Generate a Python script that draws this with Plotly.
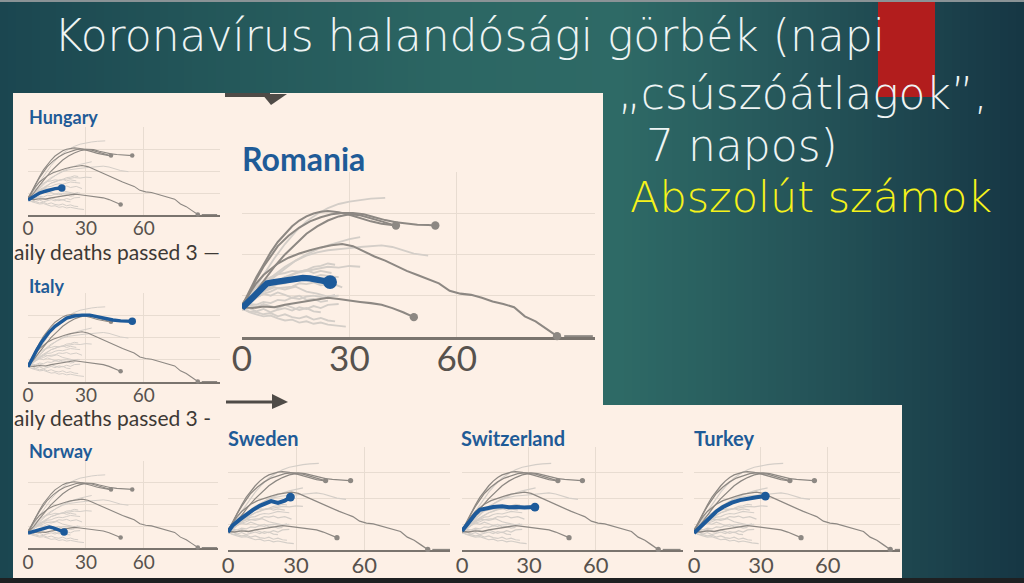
import plotly.graph_objects as go

# ---------------- data (days since 3 daily deaths, relative log-level units) ----------------
tick_vals = [0, 30, 60]
tick_text = ["0", "30", "60"]

# dark grey reference curves
china_x = [0, 2, 4, 6, 8, 10, 13, 16, 19, 22, 25, 28, 31, 34, 37, 40, 43, 46, 49, 52, 55, 58, 61, 64, 67, 70, 73, 76, 79, 82, 85, 88]
china_y = [0.78, 1.05, 1.3, 1.5, 1.65, 1.78, 1.92, 2.02, 2.1, 2.17, 2.22, 2.25, 2.2, 2.08, 1.95, 1.85, 1.72, 1.6, 1.5, 1.4, 1.3, 1.12, 1.05, 1.02, 0.95, 0.86, 0.8, 0.72, 0.5, 0.38, 0.2, 0.02]
china_tail_x = [90, 98]
china_tail_y = [0.02, 0.02]
italy_ref_x = [0, 2, 4, 6, 8, 10, 13, 16, 19, 22, 25, 28, 31, 34, 37, 40, 43, 46, 49, 52, 54]
italy_ref_y = [0.68, 1.05, 1.4, 1.7, 1.95, 2.2, 2.45, 2.65, 2.8, 2.9, 2.97, 3.0, 3.0, 2.97, 2.9, 2.83, 2.78, 2.75, 2.72, 2.71, 2.7]
spain_x = [0, 2, 4, 6, 8, 10, 12, 14, 16, 18, 20, 22, 24, 27, 30, 33, 36, 39, 42, 43]
spain_y = [0.75, 1.1, 1.45, 1.75, 2.05, 2.3, 2.5, 2.68, 2.82, 2.92, 2.99, 3.03, 3.05, 3.02, 2.96, 2.88, 2.8, 2.74, 2.7, 2.7]
uk_x = [0, 3, 6, 9, 12, 15, 18, 21, 24, 27, 30, 33, 36, 39, 42]
uk_y = [0.72, 1.0, 1.35, 1.7, 2.0, 2.25, 2.5, 2.68, 2.82, 2.92, 2.97, 2.95, 2.88, 2.8, 2.72]
low_x = [0, 3, 6, 9, 12, 15, 18, 21, 24, 27, 30, 33, 36, 39, 42, 45, 48]
low_y = [0.72, 0.7, 0.74, 0.72, 0.78, 0.82, 0.86, 0.9, 0.95, 0.92, 0.88, 0.85, 0.82, 0.78, 0.7, 0.6, 0.48]
end_dots_x = [43, 54, 48, 88]
end_dots_y = [2.7, 2.7, 0.48, 0.02]

# light grey reference curves
us_x = [0, 3, 6, 9, 12, 15, 18, 21, 24, 27, 30, 33, 36, 40]
us_y = [0.8, 1.1, 1.5, 1.9, 2.25, 2.55, 2.8, 2.98, 3.12, 3.22, 3.28, 3.32, 3.35, 3.37]
france_x = [0, 3, 6, 9, 12, 15, 18, 21, 24, 27, 30, 33, 36, 39, 42, 45, 48, 52]
france_y = [0.75, 1.0, 1.25, 1.5, 1.7, 1.85, 1.97, 2.05, 2.1, 2.12, 2.15, 2.18, 2.2, 2.22, 2.18, 2.1, 2.02, 1.97]
lg2_x = [0, 3, 6, 9, 12, 15, 18, 21, 24, 27, 30, 33]
lg2_y = [0.7, 0.95, 1.2, 1.45, 1.65, 1.85, 2.0, 2.12, 2.22, 2.3, 2.37, 2.42]
c1_x = [0, 2, 4, 6, 8, 10, 12, 14, 16, 18, 20, 22, 24, 26]
c1_y = [0.7, 0.85, 1.0, 1.15, 1.25, 1.35, 1.45, 1.5, 1.58, 1.62, 1.7, 1.72, 1.78, 1.75]
c2_x = [0, 2, 4, 6, 8, 10, 12, 14, 16, 18, 20, 22, 24, 27]
c2_y = [0.75, 0.9, 1.05, 1.12, 1.2, 1.28, 1.3, 1.38, 1.42, 1.4, 1.45, 1.5, 1.48, 1.45]
c3_x = [0, 2, 4, 6, 8, 10, 12, 14, 16, 18, 20, 22, 25, 28]
c3_y = [0.7, 0.8, 0.95, 1.05, 1.1, 1.18, 1.2, 1.22, 1.3, 1.28, 1.32, 1.25, 1.3, 1.2]
c4_x = [0, 2, 4, 6, 8, 10, 12, 14, 16, 18, 20, 22, 24, 26]
c4_y = [0.68, 0.62, 0.6, 0.55, 0.58, 0.5, 0.55, 0.48, 0.45, 0.5, 0.42, 0.46, 0.4, 0.38]
c5_x = [0, 2, 4, 6, 8, 10, 12, 14, 16, 18, 20, 23, 26]
c5_y = [0.72, 0.8, 0.78, 0.85, 0.82, 0.9, 0.88, 0.95, 0.92, 0.98, 1.0, 0.95, 1.02]
c6_x = [0, 2, 4, 6, 8, 10, 12, 14, 16, 18, 20, 22, 24, 27]
c6_y = [0.65, 0.7, 0.62, 0.68, 0.6, 0.66, 0.7, 0.64, 0.72, 0.68, 0.75, 0.7, 0.78, 0.8]
c7_x = [0, 3, 6, 9, 12, 15, 18, 21, 24, 27]
c7_y = [0.75, 0.95, 1.1, 1.2, 1.15, 1.22, 1.1, 1.05, 0.98, 1.0]
c8_x = [0, 2, 4, 6, 8, 10, 12, 14, 16, 18, 20, 22, 24, 26, 29]
c8_y = [0.7, 0.6, 0.55, 0.5, 0.52, 0.45, 0.4, 0.42, 0.35, 0.38, 0.32, 0.35, 0.3, 0.28, 0.25]
c9_x = [0, 2, 4, 6, 8, 10, 12, 14, 16, 18, 20, 22, 25]
c9_y = [0.8, 1.0, 1.2, 1.35, 1.45, 1.52, 1.55, 1.6, 1.58, 1.62, 1.55, 1.6, 1.55]
c10_x = [0, 3, 6, 9, 12, 15, 18, 21, 24, 27, 30, 33]
c10_y = [0.72, 0.9, 1.1, 1.3, 1.45, 1.55, 1.6, 1.65, 1.7, 1.68, 1.72, 1.7]
c11_x = [0, 2, 4, 6, 8, 10, 12, 14, 16, 18, 20, 22]
c11_y = [0.7, 0.78, 0.72, 0.8, 0.75, 0.7, 0.78, 0.72, 0.65, 0.7, 0.62, 0.6]
c12_x = [0, 2, 4, 6, 8, 10, 12, 14, 16, 18, 20, 22, 24]
c12_y = [0.72, 0.88, 0.95, 1.05, 1.0, 1.08, 1.02, 0.95, 1.0, 0.9, 0.92, 0.85, 0.88]

# highlighted countries
hungary_x = [0, 3, 6, 9, 11, 14, 17.5]
hungary_y = [0.68, 0.85, 1.0, 1.08, 1.14, 1.2, 1.23]
italy_x = [0, 2, 4.5, 7, 9, 11, 14, 17, 20, 24, 28, 32, 36, 40, 44, 48, 51, 54]
italy_y = [0.68, 1.05, 1.43, 1.78, 2.02, 2.24, 2.5, 2.7, 2.87, 2.96, 3.0, 3.0, 2.92, 2.84, 2.78, 2.74, 2.72, 2.72]
norway_x = [0, 2, 4, 6, 8, 10, 11, 13, 15, 17, 18.7]
norway_y = [0.69, 0.74, 0.78, 0.83, 0.88, 0.92, 0.97, 0.93, 0.87, 0.82, 0.74]
romania_x = [0, 1.5, 3, 5, 7, 9, 11, 13, 15, 17, 19, 21, 23, 24.6]
romania_y = [0.7, 0.82, 0.97, 1.15, 1.3, 1.33, 1.36, 1.38, 1.4, 1.43, 1.42, 1.38, 1.35, 1.33]
sweden_x = [0, 2, 5, 8, 11, 14, 17, 19, 22, 25, 27.5]
sweden_y = [0.7, 0.95, 1.17, 1.38, 1.56, 1.72, 1.84, 1.9, 1.83, 1.92, 2.06]
switzerland_x = [0, 2, 3.7, 6, 8, 11, 14, 18, 21, 24.6, 28, 32.7]
switzerland_y = [0.74, 0.95, 1.17, 1.4, 1.56, 1.63, 1.67, 1.7, 1.66, 1.67, 1.65, 1.67]
turkey_x = [0, 3, 5, 7, 10, 13, 17, 20.6, 24, 28, 32]
turkey_y = [0.66, 0.92, 1.1, 1.28, 1.5, 1.67, 1.84, 1.94, 2.0, 2.05, 2.1]

title_lines = ["Koronavírus halandósági görbék (napi", "„csúszóátlagok”,", "7 napos)"]
subtitle = "Abszolút számok"
axis_caption = "aily deaths passed 3 —"
axis_caption2 = "aily deaths passed 3 -"

# ---------------- layout helpers ----------------
W, H = 1024, 583
CREAM = "#fdf0e6"
GRID = "#e8dcd1"
LIGHT = "#d4cec8"
DARK = "#8d8883"
BLUE = "#1d5a9a"
TBLUE = "#1f5b97"
AXIS = "#7a746e"
TICK = "#57524d"


def px(x):
    return x / W


def py(y):
    return 1 - y / H


light_curves = [(us_x, us_y), (france_x, france_y), (lg2_x, lg2_y), (c1_x, c1_y), (c2_x, c2_y),
                (c3_x, c3_y), (c4_x, c4_y), (c5_x, c5_y), (c6_x, c6_y), (c7_x, c7_y), (c8_x, c8_y),
                (c9_x, c9_y), (c10_x, c10_y), (c11_x, c11_y), (c12_x, c12_y)]
dark_curves = [(china_x, china_y), (china_tail_x, china_tail_y), (italy_ref_x, italy_ref_y),
               (spain_x, spain_y), (uk_x, uk_y), (low_x, low_y)]

# name, blue x, blue y, px of day0, px of right end, px per day, baseline px, px per unit,
# scale factor, title pos, tick label standoff
panels = [
    ("Hungary", hungary_x, hungary_y, 28, 220, 1.93, 215, 22.0, 1.0, (27, 117), -5),
    ("Italy", italy_x, italy_y, 28, 220, 1.93, 382, 22.3, 1.0, (27, 286), -5),
    ("Norway", norway_x, norway_y, 28, 218, 1.93, 548, 21.7, 1.0, (27, 451), -4),
    ("Romania", romania_x, romania_y, 242, 595, 3.58, 337, 41.3, 1.85, (240, 158), -11),
    ("Sweden", sweden_x, sweden_y, 228, 450, 2.27, 550, 25.7, 1.17, (226, 438), -5),
    ("Switzerland", switzerland_x, switzerland_y, 462, 683, 2.23, 550, 25.7, 1.17, (459, 438), -5),
    ("Turkey", turkey_x, turkey_y, 694, 900, 2.23, 550, 25.7, 1.17, (692, 438), -5),
]

fig = go.Figure()
shapes = []
annotations = []

# gradient background (vertical stripes)
stops = [(0, (27, 70, 80)), (200, (35, 86, 89)), (450, (44, 102, 99)), (620, (46, 106, 102)),
         (800, (37, 85, 89)), (1024, (22, 54, 68))]


def grad(x):
    for (xa, ca), (xb, cb) in zip(stops[:-1], stops[1:]):
        if xa <= x <= xb:
            t = (x - xa) / (xb - xa)
            return "rgb(%d,%d,%d)" % tuple(round(a + (b - a) * t) for a, b in zip(ca, cb))
    return "rgb(22,54,68)"


step = 8
for i in range(0, W, step):
    shapes.append(dict(type="rect", xref="paper", yref="paper", x0=px(i), x1=px(i + step + 1),
                       y0=0, y1=1, fillcolor=grad(i + step / 2), line=dict(width=0), layer="below"))

# red block top right
shapes.append(dict(type="rect", xref="paper", yref="paper", x0=px(878), x1=px(935), y0=py(97), y1=py(0),
                   fillcolor="#b21d1d", line=dict(width=0), layer="below"))
# top / bottom strips
shapes.append(dict(type="rect", xref="paper", yref="paper", x0=0, x1=1, y0=py(2), y1=1,
                   fillcolor="#8a9396", line=dict(width=0), layer="below"))

# cream panels
for (l, t, r, b) in [(13, 93, 225, 578), (225, 93, 603, 405), (225, 405, 902, 578)]:
    shapes.append(dict(type="rect", xref="paper", yref="paper", x0=px(l), x1=px(r), y0=py(b), y1=py(t),
                       fillcolor=CREAM, line=dict(width=0), layer="below"))
shapes.append(dict(type="rect", xref="paper", yref="paper", x0=0, x1=1, y0=0, y1=py(578),
                   fillcolor="#1e2022", line=dict(width=0), layer="below"))

# arrows (FT graphic fragments)
shapes.append(dict(type="rect", xref="paper", yref="paper", x0=px(225), x1=px(270), y0=py(97), y1=py(93),
                   fillcolor="#4f4b47", line=dict(width=0), layer="above"))
shapes.append(dict(type="path", xref="paper", yref="paper",
                   path="M %f %f L %f %f L %f %f Z" % (px(262), py(94), px(287), py(94), px(271), py(105)),
                   fillcolor="#4f4b47", line=dict(width=0), layer="above"))
shapes.append(dict(type="rect", xref="paper", yref="paper", x0=px(226), x1=px(276), y0=py(403.5), y1=py(400.5),
                   fillcolor="#4f4b47", line=dict(width=0), layer="above"))
shapes.append(dict(type="path", xref="paper", yref="paper",
                   path="M %f %f L %f %f L %f %f Z" % (px(272), py(394), px(288), py(402), px(272), py(409)),
                   fillcolor="#4f4b47", line=dict(width=0), layer="above"))

for k, (name, bx, by, x0p, x1p, ppd, basep, ppu, sc, tpos, stand) in enumerate(panels):
    n = k + 1
    xa = "x" if n == 1 else "x%d" % n
    ya = "y" if n == 1 else "y%d" % n
    xr = (x1p - x0p) / ppd
    top = basep - 4.0 * ppu
    lw_l = 1.0 * sc
    lw_d = 1.1 * sc
    lw_b = 3.4 * sc
    ds = 4.5 * sc
    bs = 7.5 * sc
    for cx, cy in light_curves:
        fig.add_trace(go.Scatter(x=cx, y=cy, mode="lines", line=dict(color=LIGHT, width=lw_l),
                                 xaxis=xa, yaxis=ya, hoverinfo="skip", showlegend=False))
    for cx, cy in dark_curves:
        fig.add_trace(go.Scatter(x=cx, y=cy, mode="lines", line=dict(color=DARK, width=lw_d),
                                 xaxis=xa, yaxis=ya, hoverinfo="skip", showlegend=False))
    fig.add_trace(go.Scatter(x=end_dots_x, y=end_dots_y, mode="markers", marker=dict(color=DARK, size=ds),
                             xaxis=xa, yaxis=ya, hoverinfo="skip", showlegend=False, cliponaxis=False))
    fig.add_trace(go.Scatter(x=bx, y=by, mode="lines", line=dict(color=BLUE, width=lw_b),
                             xaxis=xa, yaxis=ya, showlegend=False, name=name))
    fig.add_trace(go.Scatter(x=[bx[-1]], y=[by[-1]], mode="markers", marker=dict(color=BLUE, size=bs),
                             xaxis=xa, yaxis=ya, showlegend=False, cliponaxis=False, name=name))
    xkey = "xaxis" if n == 1 else "xaxis%d" % n
    ykey = "yaxis" if n == 1 else "yaxis%d" % n
    fig.update_layout(**{
        xkey: dict(domain=[px(x0p), px(x1p)], range=[0, xr], anchor=ya, tickvals=tick_vals, ticktext=tick_text,
                   showgrid=True, gridcolor=GRID, gridwidth=1, zeroline=False, showline=True,
                   linecolor=AXIS, linewidth=round(1.8 * sc), layer="below traces", ticks="",
                   ticklabelstandoff=stand, automargin=False,
                   tickfont=dict(family="Lato", size=round(19 * sc), color=TICK), fixedrange=True),
        ykey: dict(domain=[py(basep), py(top)], range=[0, 4.0], anchor=xa, tickvals=[1, 2, 3],
                   showticklabels=False, showgrid=True, gridcolor=GRID, gridwidth=1, zeroline=False,
                   showline=False, ticks="", automargin=False, fixedrange=True),
    })
    annotations.append(dict(text="<b>%s</b>" % name, xref="paper", yref="paper", x=px(tpos[0]), y=py(tpos[1]),
                            xanchor="left", yanchor="middle", showarrow=False,
                            font=dict(family="Lato", size=round(17.5 * sc), color=TBLUE)))

# captions in left strip
annotations.append(dict(text=axis_caption, xref="paper", yref="paper", x=px(12), y=py(251), xanchor="left",
                        yanchor="middle", showarrow=False, font=dict(family="Lato", size=21, color="#3d3935")))
annotations.append(dict(text=axis_caption2, xref="paper", yref="paper", x=px(12), y=py(417), xanchor="left",
                        yanchor="middle", showarrow=False, font=dict(family="Lato", size=21, color="#3d3935")))

# slide title
title_pos = [(52, 36), (616, 93), (644, 145)]
for txt, (tx, ty) in zip(title_lines, title_pos):
    annotations.append(dict(text=txt, xref="paper", yref="paper", x=px(tx), y=py(ty), xanchor="left",
                            yanchor="middle", showarrow=False,
                            font=dict(family="DejaVu Sans", size=44, color="#eef4f4", weight=300)))
annotations.append(dict(text=subtitle, xref="paper", yref="paper", x=px(628), y=py(197), xanchor="left",
                        yanchor="middle", showarrow=False,
                        font=dict(family="DejaVu Sans", size=43, color="#f6f21a", weight=300)))

fig.update_layout(width=W, height=H, autosize=False, margin=dict(l=0, r=0, t=0, b=0, pad=0),
                  paper_bgcolor="#1d4a54", plot_bgcolor="rgba(0,0,0,0)", shapes=shapes,
                  annotations=annotations, showlegend=False, hovermode=False)

fig.write_html("out.html", config={"displayModeBar": False},
               post_script="document.body.style.margin='0';document.body.style.overflow='hidden';")
